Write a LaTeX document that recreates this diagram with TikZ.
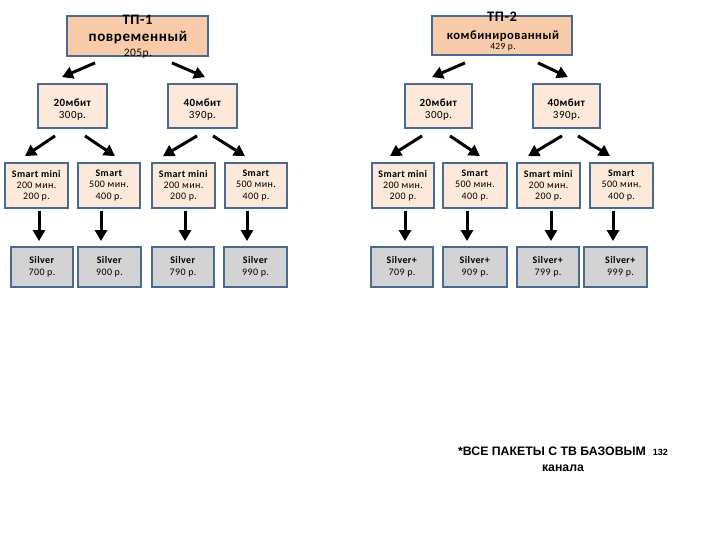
\documentclass[tikz,border=0pt]{standalone}
\usepackage{fontspec}
\setmainfont{Carlito}[LetterSpace=4]
\newfontfamily\footfont{Liberation Sans}
\usetikzlibrary{arrows.meta}
\definecolor{bord}{HTML}{4A6A90}
\definecolor{tpfill}{HTML}{F8CCAB}
\definecolor{pfill}{HTML}{FCE9DA}
\definecolor{sfill}{HTML}{D3D3D3}
\newcommand\lowtxt[1]{\raisebox{-4pt}[\height][\depth]{\begin{tabular}{@{}c@{}}#1\end{tabular}}}
\tikzset{
  box/.style={draw=bord, line width=1.8pt, inner sep=0pt, align=center},
  tpbox/.style={box, fill=tpfill},
  spdbox/.style={box, fill=pfill, minimum width=69pt, minimum height=44pt, font=\fontsize{11}{11.5}\selectfont},
  pkgbox/.style={box, fill=pfill, minimum width=63pt, minimum height=45pt, font=\fontsize{10}{11.2}\selectfont},
  silbox/.style={box, fill=sfill, minimum width=63pt, minimum height=40pt, font=\fontsize{10}{11.5}\selectfont},
  arr/.style={line width=3pt, -{Triangle[length=11pt,width=12pt]}},
  tptext/.style={anchor=base, inner sep=0pt},
}
\begin{document}
\begin{tikzpicture}[x=1pt,y=-1pt]
\useasboundingbox (0,0) rectangle (720,540);
% top boxes
\node[tpbox, minimum width=141pt, minimum height=40pt] (tp1) at (137.5,36) {};
\node[tpbox, minimum width=140pt, minimum height=39pt] (tp2) at (502,35.5) {};
\node[tptext, font=\fontsize{14.5}{16}\selectfont\bfseries] (tp1a) at (137.5,25) {ТП-1};
\node[tptext, font=\fontsize{15}{17}\selectfont\bfseries] (tp1b) at (138,42) {повременный};
\node[tptext, font=\fontsize{11.5}{13}\selectfont] (tp1c) at (138,56.5) {205р.};
\node[tptext, font=\fontsize{14.5}{16}\selectfont\bfseries] (tp2a) at (502,22) {ТП-2};
\node[tptext, font=\fontsize{12.6}{15}\selectfont\bfseries] (tp2b) at (503,40) {комбинированный};
\node[tptext, font=\fontsize{9.5}{11}\selectfont] (tp2c) at (503,50) {429 р.};
% speed boxes
\node[spdbox] (l20) at (72.5,106) {\lowtxt{\textbf{20мбит}\\300р.}};
\node[spdbox] (l40) at (202.5,106) {\lowtxt{\textbf{40мбит}\\390р.}};
\node[spdbox, minimum width=67pt] (r20) at (438.5,106) {\lowtxt{\textbf{20мбит}\\300р.}};
\node[spdbox, minimum width=67pt] (r40) at (566.5,106) {\lowtxt{\textbf{40мбит}\\390р.}};
% package boxes
\node[pkgbox] (l1) at (36.5,185.5) {\textbf{Smart mini}\\200 мин.\\200 р.};
\node[pkgbox, minimum width=62pt] (l2) at (109,185.5) {\textbf{Smart}\\500 мин.\\400 р.};
\node[pkgbox] (l3) at (183.5,185.5) {\textbf{Smart mini}\\200 мин.\\200 р.};
\node[pkgbox, minimum width=62pt] (l4) at (256,185.5) {\textbf{Smart}\\500 мин.\\400 р.};
\node[pkgbox, minimum width=62pt] (r1) at (403,185.5) {\textbf{Smart mini}\\200 мин.\\200 р.};
\node[pkgbox, minimum width=64pt] (r2) at (475,185.5) {\textbf{Smart}\\500 мин.\\400 р.};
\node[pkgbox] (r3) at (548.5,185.5) {\textbf{Smart mini}\\200 мин.\\200 р.};
\node[pkgbox] (r4) at (621.5,185.5) {\textbf{Smart}\\500 мин.\\400 р.};
% silver boxes
\node[silbox, minimum width=62pt] (s1) at (42,267) {\textbf{Silver}\\700 р.};
\node[silbox] (s2) at (109.5,267) {\textbf{Silver}\\900 р.};
\node[silbox, minimum width=62pt] (s3) at (183,267) {\textbf{Silver}\\790 р.};
\node[silbox] (s4) at (255.5,267) {\textbf{Silver}\\990 р.};
\node[silbox, minimum width=62pt] (t1) at (402,267) {\textbf{Silver+}\\709 р.};
\node[silbox, minimum width=64pt] (t2) at (475,267) {\textbf{Silver+}\\909 р.};
\node[silbox, minimum width=62pt] (t3) at (548,267) {\textbf{Silver+}\\799 р.};
\node[silbox] (t4) at (615.5,267) {\hspace*{10pt}\textbf{Silver+}\\\hspace*{10pt}999 р.};
% note
\node[align=center, inner sep=0pt, font=\footfont\bfseries\fontsize{12.3}{16}\selectfont] (note) at (563,459)
  {*ВСЕ ПАКЕТЫ С ТВ БАЗОВЫМ\ \ {\fontsize{9}{10}\selectfont 132}\\канала};
% arrows top
\draw[arr] ([xshift=-42.5pt,yshift=-6pt]tp1.south) -- ([xshift=-10.5pt,yshift=6pt]l20.north);
\draw[arr] ([xshift=34.5pt,yshift=-6pt]tp1.south) -- ([xshift=2.5pt,yshift=6pt]l40.north);
\draw[arr] ([xshift=-37pt,yshift=-7pt]tp2.south) -- ([xshift=-6.5pt,yshift=6pt]r20.north);
\draw[arr] ([xshift=36pt,yshift=-7pt]tp2.south) -- ([xshift=1.5pt,yshift=6pt]r40.north);
% arrows row 2 -> 3
\draw[arr] ([xshift=-17.5pt,yshift=-7pt]l20.south) -- ([xshift=-11.5pt,yshift=6pt]l1.north);
\draw[arr] ([xshift=12.5pt,yshift=-7pt]l20.south) -- ([xshift=6pt,yshift=6pt]l2.north);
\draw[arr] ([xshift=-5.5pt,yshift=-7pt]l40.south) -- ([xshift=-20.5pt,yshift=6pt]l3.north);
\draw[arr] ([xshift=10.5pt,yshift=-7pt]l40.south) -- ([xshift=-11pt,yshift=6pt]l4.north);
\draw[arr] ([xshift=-16.5pt,yshift=-7pt]r20.south) -- ([xshift=-13pt,yshift=6pt]r1.north);
\draw[arr] ([xshift=11.5pt,yshift=-7pt]r20.south) -- ([xshift=5pt,yshift=6pt]r2.north);
\draw[arr] ([xshift=-4.5pt,yshift=-7pt]r40.south) -- ([xshift=-20.5pt,yshift=6pt]r3.north);
\draw[arr] ([xshift=11.5pt,yshift=-7pt]r40.south) -- ([xshift=-11.5pt,yshift=6pt]r4.north);
% vertical arrows
\draw[arr] ([xshift=2.5pt,yshift=-2pt]l1.south) -- ([xshift=-3pt,yshift=5pt]s1.north);
\draw[arr] ([xshift=-8pt,yshift=-2pt]l2.south) -- ([xshift=-8.5pt,yshift=5pt]s2.north);
\draw[arr] ([xshift=1.5pt,yshift=-2pt]l3.south) -- ([xshift=2pt,yshift=5pt]s3.north);
\draw[arr] ([xshift=-9pt,yshift=-2pt]l4.south) -- ([xshift=-8.5pt,yshift=5pt]s4.north);
\draw[arr] ([xshift=2pt,yshift=-2pt]r1.south) -- ([xshift=3pt,yshift=5pt]t1.north);
\draw[arr] ([xshift=-8pt,yshift=-2pt]r2.south) -- ([xshift=-8pt,yshift=5pt]t2.north);
\draw[arr] ([xshift=2.5pt,yshift=-2pt]r3.south) -- ([xshift=3pt,yshift=5pt]t3.north);
\draw[arr] ([xshift=-8.5pt,yshift=-2pt]r4.south) -- ([xshift=-2.5pt,yshift=5pt]t4.north);
\end{tikzpicture}
\end{document}
